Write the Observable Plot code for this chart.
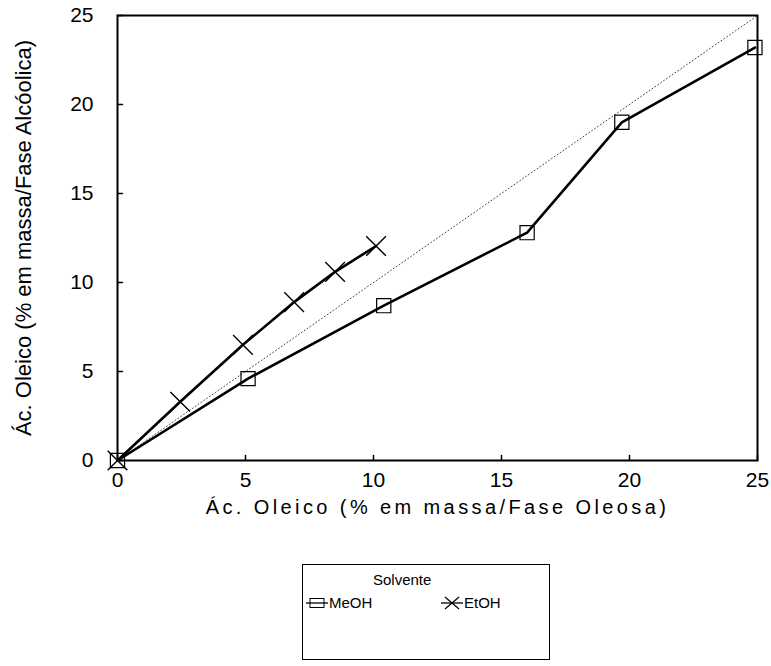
<!DOCTYPE html>
<html>
<head>
<meta charset="utf-8">
<script src="https://cdn.jsdelivr.net/npm/d3@7"></script>
<script src="https://cdn.jsdelivr.net/npm/@observablehq/plot@0.6"></script>
<style>
  html, body { margin: 0; padding: 0; background: #fff; }
  body { width: 771px; height: 666px; position: relative; font-family: "Liberation Sans", Arial, sans-serif; }
  #chart { position: absolute; left: 0; top: 0; }
  #chart svg [aria-label="x-axis label"] text { letter-spacing: 3.4px; }
  #legend { position: absolute; left: 302px; top: 564px; width: 246px; height: 94px; border: 1.6px solid #000; }
  #legend .title { position: absolute; left: 70px; top: 6px; font-size: 15px; }
  #legend .item { position: absolute; top: 29px; font-size: 15px; display: flex; align-items: center; }
  #legend svg { display: block; }
</style>
</head>
<body>
<div id="chart"></div>
<div id="legend">
  <div class="title">Solvente</div>
  <div class="item" style="left:2px"><svg width="24" height="16"><line x1="1" y1="8" x2="23" y2="8" stroke="#000" stroke-width="1.3"/><rect x="5" y="3.5" width="14" height="9" fill="none" stroke="#000" stroke-width="1"/></svg><span>MeOH</span></div>
  <div class="item" style="left:137px"><svg width="24" height="16"><line x1="1" y1="8" x2="23" y2="8" stroke="#000" stroke-width="1.3"/><line x1="5" y1="2" x2="19" y2="14" stroke="#000" stroke-width="1.2"/><line x1="5" y1="14" x2="19" y2="2" stroke="#000" stroke-width="1.2"/></svg><span>EtOH</span></div>
</div>
<script>
// MeOH series (squares)
const meohX = [0, 5.1, 10.4, 16.0, 19.7, 24.9];
const meohY = [0, 4.6, 8.7, 12.8, 19.0, 23.2];
// EtOH series (crosses)
const etohX = [0, 2.45, 4.9, 6.9, 8.5, 10.1];
const etohY = [0, 3.3, 6.5, 8.9, 10.6, 12.05];
// reference diagonal y = x
const diagX = [0, 25];
const diagY = [0, 25];
// ticks
const xTicks = [0, 5, 10, 15, 20, 25];
const yTicks = [0, 5, 10, 15, 20, 25];

const meoh = meohX.map((x, i) => ({x, y: meohY[i]}));
const etoh = etohX.map((x, i) => ({x, y: etohY[i]}));
const diag = diagX.map((x, i) => ({x, y: diagY[i]}));

const tickShape = {draw(context, l) { context.moveTo(0, 0); context.lineTo(0, -l); }};

const chart = Plot.plot({
  width: 771,
  height: 540,
  marginLeft: 117,
  marginRight: 14,
  marginTop: 15,
  marginBottom: 80,
  style: {fontFamily: "'Liberation Sans', Arial, sans-serif", fontSize: "21px", color: "#000", background: "#fff"},
  x: {domain: [0, 25]},
  y: {domain: [0, 25]},
  marks: [
    Plot.line(diag, {x: "x", y: "y", stroke: "#444", strokeWidth: 1, strokeDasharray: "1,2.5"}),
    Plot.line(meoh, {x: "x", y: "y", stroke: "#000", strokeWidth: 2.6}),
    Plot.line(etoh, {x: "x", y: "y", stroke: "#000", strokeWidth: 2.6}),
    Plot.dot(meoh, {x: "x", y: "y", symbol: "square", r: 8, stroke: "#000", strokeWidth: 1.2, fill: "none"}),
    Plot.dot(etoh, {x: "x", y: "y", symbol: "times", r: 9, stroke: "#000", strokeWidth: 1.4}),
    Plot.vector(xTicks, {x: d => d, frameAnchor: "bottom", rotate: 0, anchor: "start", length: 5, shape: tickShape, stroke: "#000", strokeWidth: 1.5}),
    Plot.vector(yTicks, {y: d => d, frameAnchor: "left", rotate: 90, anchor: "start", length: 5, shape: tickShape, stroke: "#000", strokeWidth: 1.5}),
    Plot.frame({stroke: "#000", strokeWidth: 2}),
    Plot.axisX(xTicks, {tickSize: 0, tickPadding: 12, fontSize: 21, label: null}),
    Plot.axisY(yTicks, {tickSize: 0, tickPadding: 24, fontSize: 21, label: null}),
    Plot.axisX({ticks: [], tickSize: 0, fontSize: 20, label: "Ác. Oleico (% em massa/Fase Oleosa)", labelAnchor: "center", labelOffset: 53, labelArrow: "none"}),
    Plot.axisY({ticks: [], tickSize: 0, fontSize: 22, label: "Ác. Oleico (% em massa/Fase Alcóolica)", labelAnchor: "center", labelOffset: 102, labelArrow: "none"})
  ]
});
document.getElementById("chart").appendChild(chart);
</script>
</body>
</html>
